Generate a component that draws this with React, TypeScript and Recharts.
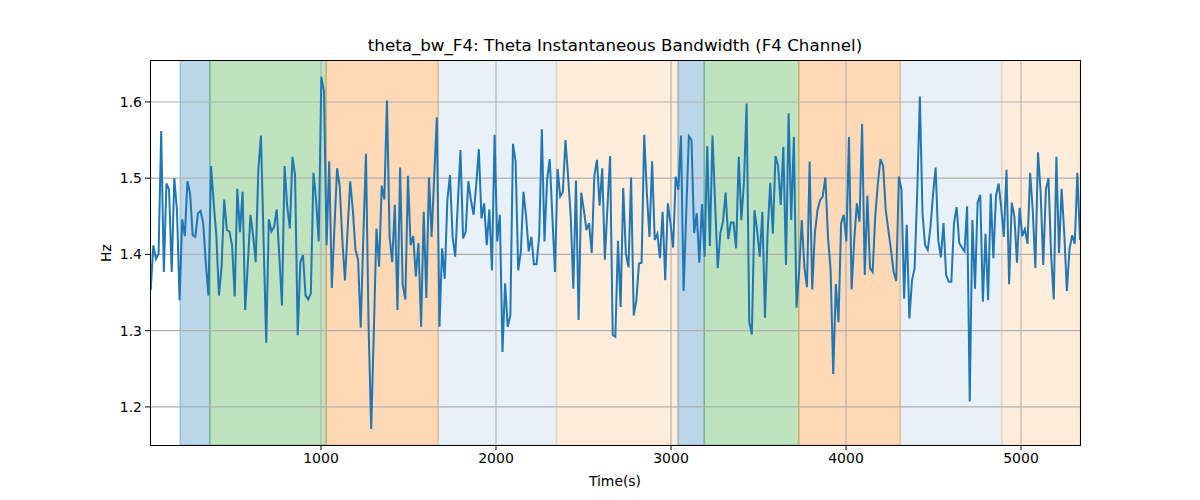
import React from 'react';
import { LineChart, Line, XAxis, YAxis, ReferenceArea, ReferenceLine } from 'recharts';

// ─── Data ────────────────────────────────────────────────────────────────────

const START_TIME = 27; // seconds, first sample
const STEP = 15; // seconds between samples

const seg1 = [1.353, 1.412, 1.394, 1.401, 1.562, 1.377, 1.493, 1.485, 1.377, 1.5, 1.458, 1.34, 1.446, 1.424, 1.496, 1.48, 1.425, 1.423, 1.454, 1.457, 1.441, 1.388, 1.346, 1.516, 1.467, 1.425, 1.346, 1.384, 1.472, 1.432, 1.43, 1.412, 1.345, 1.486, 1.429, 1.482, 1.327];
const seg2 = [1.388, 1.452, 1.425, 1.39, 1.511, 1.556, 1.419, 1.284, 1.446, 1.43, 1.436, 1.459, 1.397, 1.333, 1.516, 1.463, 1.434, 1.528, 1.504, 1.294, 1.39, 1.399, 1.346, 1.341, 1.349, 1.507, 1.471, 1.417, 1.633, 1.614, 1.412, 1.522, 1.356, 1.436, 1.513];
const seg3 = [1.489, 1.419, 1.366, 1.432, 1.496, 1.458, 1.406, 1.393, 1.304, 1.423, 1.532, 1.305, 1.171, 1.3, 1.434, 1.384, 1.49, 1.472, 1.602, 1.423, 1.39, 1.465, 1.327, 1.514, 1.36, 1.341, 1.503, 1.412, 1.424, 1.371, 1.415, 1.305, 1.456, 1.343, 1.501, 1.423];
const seg4 = [1.502, 1.58, 1.305, 1.408, 1.368, 1.471, 1.504, 1.423, 1.397, 1.467, 1.537, 1.421, 1.43, 1.496, 1.471, 1.452, 1.491, 1.538, 1.447, 1.467, 1.412, 1.459, 1.379, 1.557, 1.417, 1.452, 1.272, 1.362, 1.305, 1.32, 1.545, 1.522, 1.379, 1.404, 1.482];
const seg5 = [1.45, 1.404, 1.423, 1.387, 1.387, 1.425, 1.564, 1.417, 1.498, 1.525, 1.45, 1.377, 1.512, 1.476, 1.482, 1.55, 1.502, 1.45, 1.355, 1.497, 1.314, 1.481, 1.458, 1.432, 1.441, 1.402, 1.503, 1.524, 1.464, 1.513, 1.393, 1.463, 1.529, 1.294, 1.292, 1.418];
const seg6 = [1.331, 1.487, 1.401, 1.383, 1.501, 1.32, 1.34, 1.388, 1.389, 1.557, 1.48, 1.423, 1.522, 1.419, 1.427, 1.395, 1.456, 1.366, 1.467, 1.441, 1.409, 1.502, 1.485, 1.556, 1.352, 1.454, 1.555, 1.55, 1.428, 1.454, 1.389, 1.466, 1.397, 1.542, 1.411];
const seg7 = [1.556, 1.467, 1.382, 1.428, 1.443, 1.481, 1.42, 1.442, 1.442, 1.408, 1.528, 1.445, 1.496, 1.598, 1.311, 1.295, 1.458, 1.432, 1.397, 1.456, 1.317, 1.428, 1.494, 1.427, 1.529, 1.516, 1.465, 1.541, 1.386, 1.585, 1.445, 1.554, 1.33, 1.377, 1.445, 1.384];
const seg8 = [1.357, 1.522, 1.354, 1.428, 1.458, 1.471, 1.476, 1.501, 1.423, 1.379, 1.243, 1.361, 1.311, 1.441, 1.452, 1.417, 1.554, 1.354, 1.419, 1.467, 1.443, 1.571, 1.373, 1.477, 1.382, 1.377, 1.45, 1.493, 1.525, 1.516, 1.458, 1.432, 1.406, 1.377, 1.365, 1.502];
const seg9 = [1.485, 1.342, 1.439, 1.316, 1.366, 1.382, 1.482, 1.607, 1.454, 1.412, 1.406, 1.434, 1.478, 1.514, 1.419, 1.396, 1.441, 1.373, 1.364, 1.364, 1.441, 1.462, 1.415, 1.409, 1.404, 1.463, 1.207, 1.445, 1.355, 1.468, 1.478, 1.338, 1.427, 1.34, 1.48];
const seg10 = [1.395, 1.477, 1.493, 1.461, 1.423, 1.511, 1.361, 1.468, 1.45, 1.389, 1.461, 1.424, 1.433, 1.414, 1.507, 1.458, 1.382, 1.534, 1.482, 1.386, 1.485, 1.5, 1.399, 1.341, 1.528, 1.402, 1.486, 1.428, 1.352, 1.407, 1.425, 1.414, 1.507, 1.419];

// shaded segments (seconds)
const bandStarts = [195, 365, 1030, 1670, 2345, 3040, 3190, 3730, 4310, 4890];
const bandEnds = [365, 1030, 1670, 2345, 3040, 3190, 3730, 4310, 4890, 5337];
const bandColors = ['#1f77b4', '#2ca02c', '#ff7f0e', '#1f77b4', '#ff7f0e', '#1f77b4', '#2ca02c', '#ff7f0e', '#1f77b4', '#ff7f0e'];
const bandOpacity = [0.3, 0.3, 0.3, 0.1, 0.15, 0.3, 0.3, 0.3, 0.1, 0.15];

const xTicks = [1000, 2000, 3000, 4000, 5000];
const yTicks = [1.2, 1.3, 1.4, 1.5, 1.6];
const X_DOMAIN: [number, number] = [23, 5337];
const Y_DOMAIN: [number, number] = [1.15, 1.655];

const values = [...seg1, ...seg2, ...seg3, ...seg4, ...seg5, ...seg6, ...seg7, ...seg8, ...seg9, ...seg10];
const chartData = values.map((hz, i) => ({ t: START_TIME + i * STEP, hz }));

const FONT = '"DejaVu Sans", sans-serif';

// plot box in page pixels
const PLOT = { left: 150, top: 60, width: 930, height: 385 };

export default function App() {
  return (
    <div
      style={{
        position: 'absolute',
        left: 0,
        top: 0,
        width: 1200,
        height: 500,
        background: '#fff',
        fontFamily: FONT,
      }}
    >
      <LineChart
        width={1200}
        height={500}
        data={chartData}
        margin={{ top: PLOT.top, right: 1200 - PLOT.left - PLOT.width, bottom: 25, left: PLOT.left - 50 }}
      >
        <XAxis
          dataKey="t"
          type="number"
          domain={X_DOMAIN}
          ticks={xTicks}
          allowDataOverflow
          height={30}
          axisLine={false}
          tickLine={{ stroke: '#000', strokeWidth: 1 }}
          tickSize={5}
          tickMargin={3}
          tick={{ fill: '#000', fontSize: 14, fontFamily: FONT }}
        />
        <YAxis
          type="number"
          domain={Y_DOMAIN}
          ticks={yTicks}
          allowDataOverflow
          width={50}
          axisLine={false}
          tickLine={{ stroke: '#000', strokeWidth: 1 }}
          tickSize={5}
          tickMargin={3}
          tickFormatter={(v: number) => v.toFixed(1)}
          tick={{ fill: '#000', fontSize: 14, fontFamily: FONT }}
        />

        {bandStarts.map((s, i) => (
          <ReferenceArea
            key={`band-${i}`}
            x1={s}
            x2={bandEnds[i]}
            fill={bandColors[i]}
            fillOpacity={bandOpacity[i]}
            stroke={bandColors[i]}
            strokeOpacity={bandOpacity[i]}
            strokeWidth={1.5}
            ifOverflow="hidden"
          />
        ))}

        {/* grid sits on top of the shading, like matplotlib */}
        {xTicks.map((x) => (
          <ReferenceLine key={`gx-${x}`} x={x} stroke="#b0b0b0" strokeWidth={1.1} />
        ))}
        {yTicks.map((y) => (
          <ReferenceLine key={`gy-${y}`} y={y} stroke="#b0b0b0" strokeWidth={1.1} />
        ))}

        <Line
          dataKey="hz"
          stroke="#1f77b4"
          strokeWidth={2}
          dot={false}
          isAnimationActive={false}
        />
      </LineChart>

      {/* axes frame */}
      <div
        style={{
          position: 'absolute',
          left: PLOT.left - 0.5,
          top: PLOT.top - 0.5,
          width: PLOT.width + 1,
          height: PLOT.height + 1,
          border: '1px solid #000',
          boxSizing: 'border-box',
          pointerEvents: 'none',
        }}
      />

      {/* title */}
      <div
        style={{
          position: 'absolute',
          left: PLOT.left,
          width: PLOT.width,
          top: 35,
          textAlign: 'center',
          fontSize: 16.7,
          color: '#000',
          lineHeight: '20px',
        }}
      >
        theta_bw_F4: Theta Instantaneous Bandwidth (F4 Channel)
      </div>

      {/* x label */}
      <div
        style={{
          position: 'absolute',
          left: PLOT.left,
          width: PLOT.width,
          top: 472,
          textAlign: 'center',
          fontSize: 13.9,
          color: '#000',
          lineHeight: '18px',
        }}
      >
        Time(s)
      </div>

      {/* y label */}
      <div
        style={{
          position: 'absolute',
          left: 106 - 40,
          top: PLOT.top + PLOT.height / 2 - 9,
          width: 80,
          textAlign: 'center',
          fontSize: 13.9,
          color: '#000',
          lineHeight: '18px',
          transform: 'rotate(-90deg)',
        }}
      >
        Hz
      </div>
    </div>
  );
}
